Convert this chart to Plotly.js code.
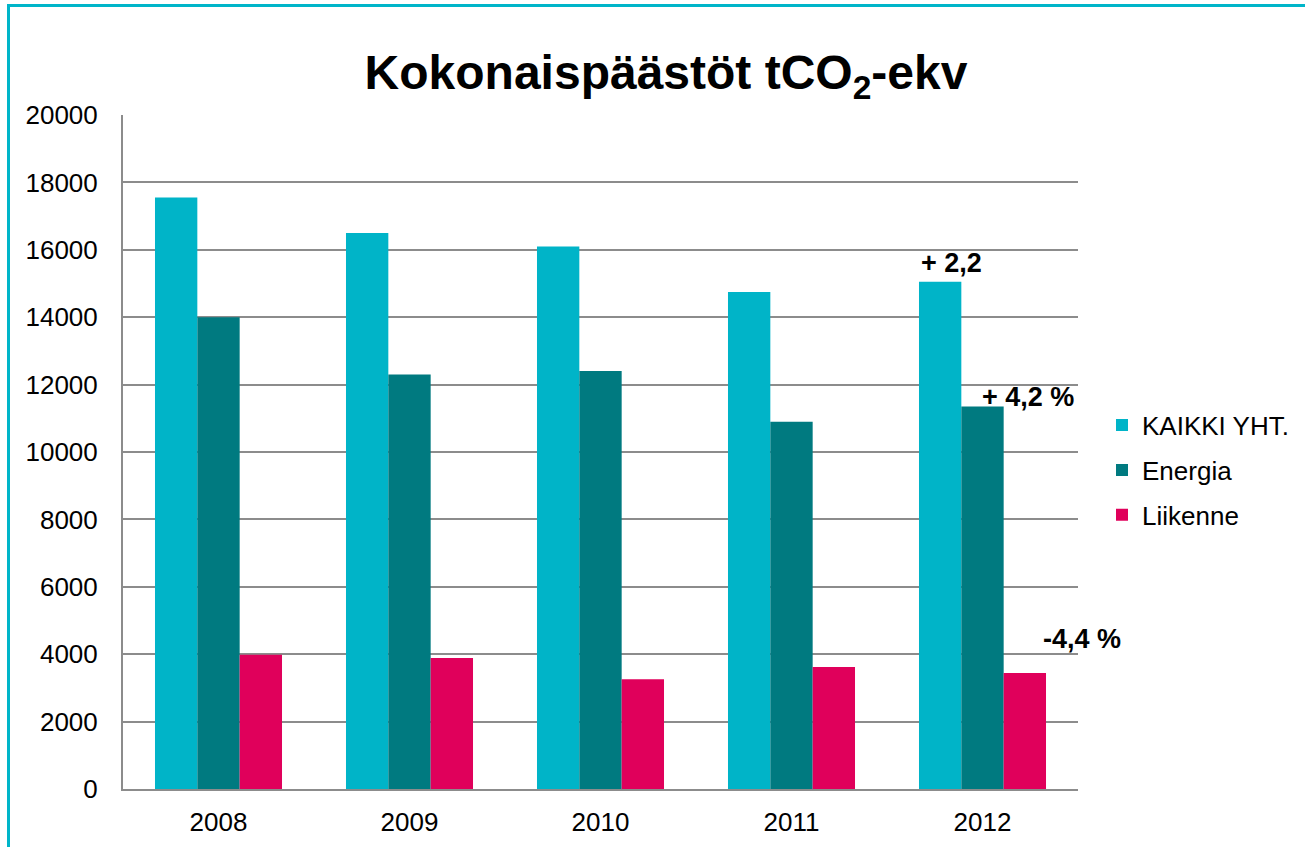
<!DOCTYPE html>
<html>
<head>
<meta charset="utf-8">
<script src="https://cdn.plot.ly/plotly-3.0.1.min.js"></script>
<style>
  html, body { margin: 0; padding: 0; background: #fff; overflow: hidden; }
  #wrap { position: relative; width: 1305px; height: 847px; }
  #frame { position: absolute; left: 7px; top: 4px; width: 1400px; height: 900px;
           border-left: 3px solid #00B5C9; border-top: 3px solid #00B5C9; pointer-events: none; }
  #chart { position: absolute; left: 0; top: 0; width: 1305px; height: 847px; }
  #err { position: absolute; left: 200px; top: 300px; font: 16px sans-serif; color: red; }
</style>
</head>
<body>
<div id="wrap">
  <div id="chart"></div>
  <div id="frame"></div>
  <div id="err"></div>
</div>
<script>
window.onerror = function (m) { document.getElementById('err').textContent += ' ERR: ' + m; };

// vuodet
var years = ['2008', '2009', '2010', '2011', '2012'];

// päästöt tCO2-ekv
var kaikki = [17550, 16500, 16100, 14750, 15050];
var energia = [14000, 12300, 12400, 10900, 11350];
var liikenne = [3980, 3890, 3260, 3620, 3440];

// muutosmerkinnät 2012
var changeText = ['+ 2,2', '+ 4,2 %', '-4,4 %'];
var changeY = [15600, 11630, 4450];
var changeShift = [-31, 45, 99];

var font = 'Liberation Sans, Arial, sans-serif';

var trace1 = {
  x: years, y: kaikki, type: 'bar', name: 'KAIKKI YHT.',
  marker: { color: '#00B4C8' }, legendgroup: 'g1'
};
var trace2 = {
  x: years, y: energia, type: 'bar', name: 'Energia',
  marker: { color: '#007A80' }, legendgroup: 'g2'
};
var trace3 = {
  x: years, y: liikenne, type: 'bar', name: 'Liikenne',
  marker: { color: '#E0005B' }, legendgroup: 'g3'
};

var annotations = [];
for (var i = 0; i < changeText.length; i++) {
  annotations.push({
    x: 4, y: changeY[i], xref: 'x', yref: 'y',
    text: '<b>' + changeText[i] + '</b>',
    showarrow: false, xshift: changeShift[i],
    xanchor: 'center', yanchor: 'middle',
    font: { family: font, size: 27, color: '#000' }
  });
}

var layout = {
  width: 1305, height: 847,
  margin: { l: 123, r: 227, t: 115, b: 58, pad: 0 },
  paper_bgcolor: 'rgba(0,0,0,0)', plot_bgcolor: '#fff',
  font: { family: font, size: 26, color: '#000' },
  title: {
    text: '<b>Kokonaispäästöt tCO<sub>2</sub>-ekv</b>',
    font: { family: font, size: 48, color: '#000' },
    x: 666 / 1305, xref: 'container', xanchor: 'center', y: 1 - 72 / 847, yanchor: 'middle'
  },
  barmode: 'group',
  bargap: 0.335, bargroupgap: 0,
  xaxis: {
    type: 'category', range: [-0.5, 4.5], autorange: false,
    showline: true, linecolor: '#8C8C8C', linewidth: 2,
    showgrid: false, zeroline: false,
    ticks: 'outside', ticklen: 9, tickcolor: 'rgba(0,0,0,0)',
    tickfont: { family: font, size: 26, color: '#000' }
  },
  yaxis: {
    range: [0, 20000], autorange: false, dtick: 2000, tick0: 0, tickformat: 'd',
    showline: true, linecolor: '#8C8C8C', linewidth: 2,
    showgrid: true, gridcolor: '#8C8C8C', gridwidth: 2,
    zeroline: false,
    ticks: 'outside', ticklen: 18, tickcolor: 'rgba(0,0,0,0)',
    tickfont: { family: font, size: 26, color: '#000' }
  },
  legend: {
    xref: 'container', x: 1102 / 1305, xanchor: 'left', y: 0.473, yanchor: 'middle',
    font: { family: font, size: 26, color: '#000' },
    tracegroupgap: 8,
    bgcolor: 'rgba(0,0,0,0)'
  },
  annotations: annotations,
  showlegend: true
};

Plotly.newPlot('chart', [trace1, trace2, trace3], layout, { displayModeBar: false })
  .catch(function (e) { document.getElementById('err').textContent += ' P: ' + e; });
</script>
</body>
</html>
